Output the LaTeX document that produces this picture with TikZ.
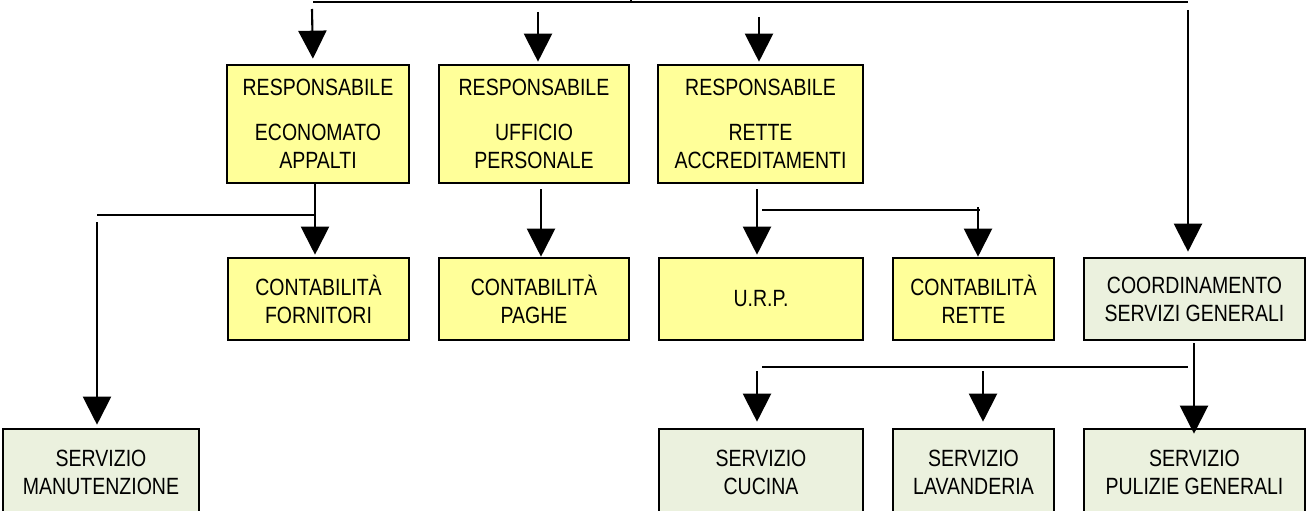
\documentclass[tikz,border=0pt]{standalone}
\usepackage{fontspec}
\setmainfont{Liberation Sans}[FakeStretch=0.83]
\usetikzlibrary{positioning,calc,arrows.meta,shapes}

\definecolor{boxyellow}{HTML}{FFFF99}
\definecolor{boxgreen}{HTML}{EBF1DE}

\tikzset{
    orgbox/.style={rectangle,draw=black,line width=2.6pt,align=center,inner sep=0pt,font=\fontsize{23.5}{28}\selectfont},
    yellowbox/.style={orgbox,fill=boxyellow},
    greenbox/.style={orgbox,fill=boxgreen},
    link/.style={line width=2.1pt},
    arr/.style={link,-{Triangle[width=28pt,length=28pt]}}
}

\begin{document}
\begin{tikzpicture}[x=1pt,y=-1pt]
        \useasboundingbox (0,0) rectangle (1306,511);

        % responsabili
        \node[yellowbox,minimum width=182pt,minimum height=118pt] (resp-econ) at (318,124) {RESPONSABILE\\[17pt]ECONOMATO\\APPALTI};
        \node[yellowbox,minimum width=190pt,minimum height=118pt] (resp-uff) at (534,124) {RESPONSABILE\\[17pt]UFFICIO\\PERSONALE};
        \node[yellowbox,minimum width=205pt,minimum height=118pt] (resp-rette) at (760.5,124) {RESPONSABILE\\[17pt]RETTE\\ACCREDITAMENTI};

        % second row
        \node[yellowbox,minimum width=181pt,minimum height=82pt] (cont-forn) at (318.5,299) {CONTABILITÀ\\FORNITORI};
        \node[yellowbox,minimum width=190pt,minimum height=82pt] (cont-paghe) at (534,299) {CONTABILITÀ\\PAGHE};
        \node[yellowbox,minimum width=204pt,minimum height=82pt] (urp) at (761,299) {U.R.P.};
        \node[yellowbox,minimum width=161pt,minimum height=82pt] (cont-rette) at (973.5,299) {CONTABILITÀ\\RETTE};
        \node[greenbox,minimum width=221pt,minimum height=82pt] (coord) at (1194.5,299) {COORDINAMENTO\\SERVIZI GENERALI};

        % servizi
        \node[greenbox,minimum width=196pt,minimum height=86pt] (serv-man) at (101,472) {SERVIZIO\\MANUTENZIONE};
        \node[greenbox,minimum width=204pt,minimum height=86pt] (serv-cuc) at (761,472) {SERVIZIO\\CUCINA};
        \node[greenbox,minimum width=161pt,minimum height=86pt] (serv-lav) at (973.5,472) {SERVIZIO\\LAVANDERIA};
        \node[greenbox,minimum width=221pt,minimum height=86pt] (serv-pul) at (1194.5,472) {SERVIZIO\\PULIZIE GENERALI};

        % top bar
        \coordinate (bar-left) at (313,2);
        \coordinate (bar-right) at (1188,2);
        \coordinate (bar-mid) at (631,2);
        \draw[line width=2.8pt] (bar-left) -- (bar-right);
        \draw[link] (bar-mid) -- ++(0,-3);
        \draw[arr,shorten >=5pt] ($(bar-left)+(-1,7)$) -- (resp-econ.north -| bar-left);
        \draw[arr,shorten >=2pt] (538,12) -- (resp-uff.north -| 538,0);
        \draw[arr,shorten >=2pt] (759,17) -- (resp-rette.north -| 759,0);
        \draw[arr,shorten >=5pt] ($(bar-right)+(0,8)$) -- (coord.north -| bar-right);

        % economato
        \coordinate (econ-split) at (315,215);
        \coordinate (man-corner) at (97,215);
        \draw[arr,shorten >=2pt] (resp-econ.south -| econ-split) -- (cont-forn.north -| econ-split);
        \draw[link] (man-corner) -- (econ-split);
        \draw[arr,shorten <=7pt,shorten >=3pt] (man-corner) -- (serv-man.north -| man-corner);

        % personale
        \draw[arr,shorten <=5pt] ($(resp-uff.south)+(7,0)$) -- ($(cont-paghe.north)+(7,0)$);

        % rette
        \coordinate (rette-left) at (762,210);
        \coordinate (rette-right) at (980,210);
        \draw[arr,shorten <=5pt,shorten >=2pt] (resp-rette.south -| 757,0) -- (urp.north -| 757,0);
        \draw[link] (rette-left) -- (rette-right);
        \draw[arr,shorten <=-3pt] (978,210) -- (cont-rette.north -| 978,0);

        % servizi generali
        \coordinate (gen-left) at (762,367);
        \coordinate (gen-right) at (1188,367);
        \draw[link] (gen-left) -- (gen-right);
        \draw[arr,shorten <=2pt,shorten >=-6pt] (coord.south -| 1194,0) -- (serv-pul.north -| 1194,0);
        \draw[arr,shorten <=4pt,shorten >=6pt] (757,367) -- (serv-cuc.north -| 757,0);
        \draw[arr,shorten <=4pt,shorten >=6pt] (983,367) -- (serv-lav.north -| 983,0);
    \end{tikzpicture}
\end{document}
